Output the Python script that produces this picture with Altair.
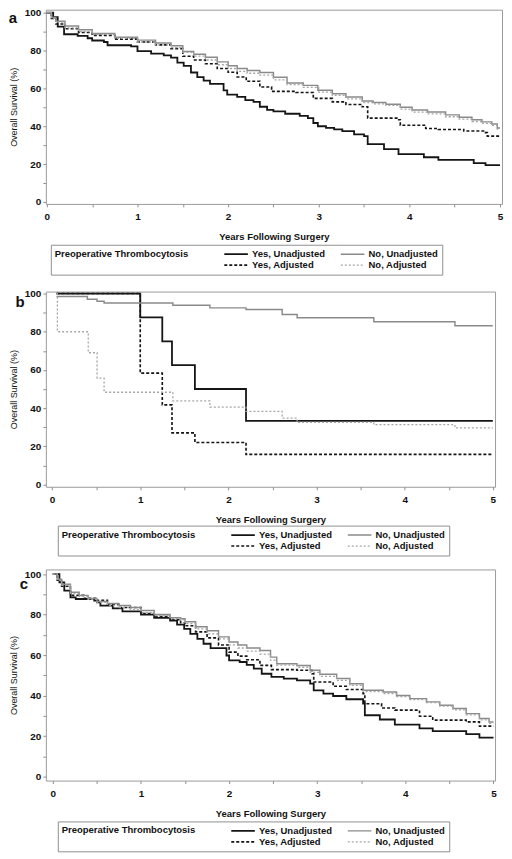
import altair as alt
import pandas as pd

GROUPS = ["Yes, Unadjusted", "Yes, Adjusted", "No, Unadjusted", "No, Adjusted"]
COLORS = ["#151515", "#151515", "#8a8a8a", "#a5a5a5"]
DASHES = [[1, 0], [3, 2], [1, 0], [2, 2]]
WIDTHS = [1.8, 1.3, 1.3, 1.2]

# ---------------- Panel a ----------------
a_yes_unadj_t = [0, 0.07, 0.12, 0.19, 0.34, 0.45, 0.5, 0.63, 0.67, 0.93, 1.0, 1.15, 1.29, 1.37, 1.44, 1.51, 1.59, 1.66, 1.73, 1.8, 1.95, 1.99, 2.1, 2.19, 2.28, 2.35, 2.43, 2.5, 2.63, 2.79, 2.88, 2.94, 2.99, 3.08, 3.17, 3.26, 3.39, 3.5, 3.54, 3.72, 3.88, 4.16, 4.32, 4.71, 4.84, 5.0]
a_yes_unadj_s = [100, 97.7, 92.6, 88.6, 87.8, 86.5, 85.3, 84.5, 82.8, 82.2, 79.7, 78.4, 77.4, 76.2, 73.6, 71.9, 68.4, 65.9, 64.1, 62.4, 59.0, 56.7, 55.5, 53.8, 52.9, 50.3, 48.6, 47.8, 46.6, 45.5, 44.3, 41.7, 40.0, 39.1, 38.3, 37.4, 35.7, 34.8, 30.5, 27.9, 25.3, 23.6, 22.2, 20.5, 19.5, 19.5]

a_yes_adj_t = [0, 0.05, 0.1, 0.2, 0.35, 0.5, 0.75, 1.0, 1.2, 1.37, 1.5, 1.62, 1.75, 1.88, 2.0, 2.1, 2.2, 2.35, 2.48, 2.75, 2.94, 3.15, 3.3, 3.48, 3.54, 3.87, 3.9, 4.18, 4.32, 4.6, 4.84, 4.86, 5.0]
a_yes_adj_s = [100, 97, 94, 91.5, 89.5, 88, 86, 84.5, 83, 81, 77, 75, 73, 70.5, 68.5, 66, 63.8, 60.7, 58.4, 57.8, 54.7, 52.9, 51.5, 50.3, 44.3, 43.4, 40.5, 38.8, 38.3, 37.5, 36.6, 34.8, 34.8]

a_no_unadj_t = [0, 0.05, 0.1, 0.2, 0.35, 0.5, 0.75, 1.0, 1.2, 1.37, 1.5, 1.62, 1.75, 1.88, 2.0, 2.1, 2.21, 2.35, 2.5, 2.65, 2.83, 2.99, 3.15, 3.3, 3.48, 3.6, 3.74, 3.9, 4.03, 4.2, 4.4, 4.55, 4.69, 4.8, 4.91, 4.97, 5.0]
a_no_unadj_s = [100, 97.5, 95.5, 93, 91, 89, 87, 85.5, 84, 82.5, 79.5, 78, 76.5, 74, 72, 70.5, 69.5, 68.4, 65.9, 62.9, 61.6, 59, 57.2, 55.5, 53.3, 52.5, 51.6, 50, 48.6, 47.5, 46, 44.8, 43.4, 42.3, 41.2, 39.1, 39.1]

a_no_adj_t = [0, 0.05, 0.1, 0.2, 0.35, 0.5, 0.75, 1.0, 1.2, 1.37, 1.5, 1.62, 1.75, 1.88, 2.0, 2.1, 2.21, 2.35, 2.5, 2.65, 2.83, 3.0, 3.15, 3.3, 3.48, 3.6, 3.74, 3.9, 4.03, 4.2, 4.4, 4.55, 4.69, 4.8, 4.91, 4.97, 5.0]
a_no_adj_s = [100, 97, 95, 92, 90, 88.5, 86.5, 84.5, 83, 81.5, 79, 77, 75, 72.5, 70.5, 69, 68, 67, 64.5, 62, 60.5, 58, 56.3, 54.5, 52.5, 51.8, 51, 49, 47.5, 46.5, 45, 43.8, 42.5, 41.5, 40.5, 38.5, 38.5]

# ---------------- Panel b ----------------
b_yes_unadj_t = [0.05, 1.0, 1.25, 1.36, 1.62, 2.2, 5.0]
b_yes_unadj_s = [100, 87.5, 75, 62.5, 50, 33.3, 33.3]

b_yes_adj_t = [0.05, 1.0, 1.25, 1.36, 1.62, 2.2, 5.0]
b_yes_adj_s = [100, 58.3, 41.7, 27, 22, 15.8, 15.8]

b_no_unadj_t = [0.05, 0.4, 0.51, 0.59, 1.37, 1.79, 2.2, 2.61, 2.78, 3.65, 4.57, 5.0]
b_no_unadj_s = [98.5, 97, 96, 95.1, 93.9, 92.5, 91.7, 89, 87.3, 85.2, 83.1, 83.1]

b_no_adj_t = [0.05, 0.06, 0.41, 0.51, 0.59, 1.37, 1.79, 2.2, 2.61, 2.78, 3.65, 4.57, 5.0]
b_no_adj_s = [100, 80, 69, 55.7, 48.3, 43.8, 40.5, 38.3, 34.8, 32.5, 31.3, 29.6, 29.6]

# ---------------- Panel c ----------------
c_yes_unadj_t = [0, 0.075, 0.13, 0.2, 0.26, 0.47, 0.5, 0.54, 0.68, 0.79, 1.0, 1.15, 1.33, 1.41, 1.49, 1.56, 1.64, 1.71, 1.79, 1.97, 2.0, 2.12, 2.2, 2.28, 2.37, 2.48, 2.62, 2.77, 2.92, 2.96, 3.07, 3.18, 3.33, 3.52, 3.54, 3.71, 3.88, 4.16, 4.31, 4.69, 4.84, 5.0]
c_yes_unadj_s = [100, 95.9, 91.8, 88.5, 87.7, 86.9, 86, 84.4, 83.1, 81.6, 80, 78.4, 77, 75.1, 73, 70.5, 68, 65.6, 63.4, 59.8, 57.4, 56.6, 55.2, 53.3, 50.8, 49.2, 48.4, 47.5, 45.9, 42.6, 41, 39.8, 38.2, 36, 30.3, 28.2, 25.7, 23.8, 22.5, 21, 19.2, 19.2]

c_yes_adj_t = [0, 0.05, 0.1, 0.2, 0.35, 0.5, 0.62, 0.75, 1.0, 1.15, 1.33, 1.45, 1.5, 1.62, 1.75, 1.88, 2.0, 2.1, 2.2, 2.35, 2.48, 2.77, 2.94, 2.96, 3.18, 3.33, 3.52, 3.54, 3.73, 3.88, 4.16, 4.31, 4.69, 4.84, 5.0]
c_yes_adj_s = [100, 97, 94, 89.5, 88, 87, 85, 83.5, 80.5, 79, 77.5, 76, 74.5, 71.5, 68.5, 65, 61.5, 59.5, 57.7, 54.9, 52.8, 52.5, 50.8, 46.7, 44.6, 43, 41, 36, 33.9, 32.8, 29.8, 27.9, 27, 24.9, 24.9]

c_no_unadj_t = [0, 0.05, 0.1, 0.2, 0.3, 0.4, 0.5, 0.62, 0.75, 0.88, 1.0, 1.15, 1.33, 1.45, 1.5, 1.62, 1.75, 1.88, 2.0, 2.1, 2.2, 2.35, 2.47, 2.54, 2.77, 2.92, 3.03, 3.22, 3.37, 3.52, 3.75, 3.9, 4.05, 4.24, 4.39, 4.54, 4.69, 4.84, 4.95, 5.0]
c_no_unadj_s = [100, 97.5, 95, 91, 89.5, 88, 86.5, 85.5, 84.5, 83.5, 82, 80, 78.5, 78, 76.5, 74, 72, 69, 66.5, 65, 63.5, 62.3, 59, 55.7, 54.9, 52.5, 50.5, 48.4, 45.9, 42.6, 41.8, 40, 38.5, 36.9, 35.2, 33.6, 31.1, 28.7, 27, 27]

c_no_adj_t = [0, 0.05, 0.1, 0.2, 0.3, 0.4, 0.5, 0.62, 0.75, 0.88, 1.0, 1.15, 1.33, 1.45, 1.5, 1.62, 1.75, 1.88, 2.0, 2.1, 2.2, 2.35, 2.47, 2.54, 2.77, 2.92, 3.03, 3.22, 3.37, 3.52, 3.75, 3.9, 4.05, 4.24, 4.39, 4.54, 4.69, 4.84, 4.95, 5.0]
c_no_adj_s = [100, 97, 94.5, 90.5, 89, 87.5, 86, 84.5, 83.5, 82.5, 81, 79.5, 78, 77.5, 75.5, 73, 70.5, 68, 65, 63.5, 62, 60.5, 57.5, 55, 54, 51.5, 49.5, 47.5, 45, 42, 41, 39.5, 38, 36.5, 34.8, 33, 30.5, 28, 26.3, 26.3]

X_TICKS = [0, 0.5, 1, 1.5, 2, 2.5, 3, 3.5, 4, 4.5, 5]
Y_TICKS = [0, 10, 20, 30, 40, 50, 60, 70, 80, 90, 100]
FONT = "Liberation Sans"


def build_df(curves):
    rows = []
    for g, (ts, ss) in zip(GROUPS, curves):
        for t, s in zip(ts, ss):
            rows.append({"group": g, "t": t, "s": s})
    return pd.DataFrame(rows)


def panel(curves, letter, width, height, xdom, ydom, letter_xy, leg_xy):
    df = build_df(curves)
    legend = alt.Legend(
        orient="none", legendX=leg_xy[0], legendY=leg_xy[1],
        title="Preoperative Thrombocytosis", titleOrient="left",
        titleAnchor="start", titleBaseline="top", titlePadding=34,
        titleFont=FONT, titleFontSize=9.5, titleFontWeight="bold", titleColor="#111",
        labelFont=FONT, labelFontSize=9.5, labelFontWeight="bold", labelColor="#111",
        columns=2, columnPadding=14, rowPadding=0, clipHeight=11,
        symbolType="stroke", symbolSize=560, labelOffset=3,
        strokeColor="#8f8f8f", padding=4, fillColor="white",
    )
    base = alt.Chart(df).mark_line(interpolate="step-after", clip=True).encode(
        x=alt.X("t:Q", scale=alt.Scale(domain=xdom, nice=False, zero=False),
                axis=alt.Axis(values=X_TICKS,
                              labelExpr="datum.value % 1 == 0 ? format(datum.value, 'd') : ''",
                              title="Years Following Surgery", grid=False, domain=False,
                              tickSize=3, tickColor="#8f8f8f", labelPadding=5,
                              labelFont=FONT, labelFontSize=10, labelFontWeight="bold", labelColor="#111",
                              titleFont=FONT, titleFontSize=9.5, titleFontWeight="bold", titleColor="#111",
                              titlePadding=10)),
        y=alt.Y("s:Q", scale=alt.Scale(domain=ydom, nice=False, zero=False),
                axis=alt.Axis(values=Y_TICKS,
                              labelExpr="datum.value % 20 == 0 ? format(datum.value, 'd') : ''",
                              title="Overall Survival (%)", grid=False, domain=False,
                              tickSize=3, tickColor="#8f8f8f", labelPadding=2,
                              labelFont=FONT, labelFontSize=10, labelFontWeight="bold", labelColor="#111",
                              titleFont=FONT, titleFontSize=9, titleFontWeight="normal", titleColor="#111",
                              titlePadding=6)),
        color=alt.Color("group:N", scale=alt.Scale(domain=GROUPS, range=COLORS), legend=legend),
        strokeDash=alt.StrokeDash("group:N", scale=alt.Scale(domain=GROUPS, range=DASHES), legend=legend),
        strokeWidth=alt.StrokeWidth("group:N", scale=alt.Scale(domain=GROUPS, range=WIDTHS), legend=legend),
        order=alt.Order("t:Q"),
    )
    lab = alt.Chart(pd.DataFrame({"letter": [letter]})).mark_text(
        font=FONT, fontSize=15, fontWeight="bold", color="#111", align="center", baseline="middle"
    ).encode(text="letter:N", x=alt.value(letter_xy[0]), y=alt.value(letter_xy[1]))
    return alt.layer(base, lab).properties(width=width, height=height)


pa = panel([(a_yes_unadj_t, a_yes_unadj_s), (a_yes_adj_t, a_yes_adj_s),
            (a_no_unadj_t, a_no_unadj_s), (a_no_adj_t, a_no_adj_s)],
           "a", 458, 195, [-0.011, 5.022], [-1.05, 101.58], (-33, 8), (5, 236))
pb = panel([(b_yes_unadj_t, b_yes_unadj_s), (b_yes_adj_t, b_yes_adj_s),
            (b_no_unadj_t, b_no_unadj_s), (b_no_adj_t, b_no_adj_s)],
           "b", 451, 196, [-0.071, 5.025], [-1.2, 101.04], (-26, 11), (12, 235))
pc = panel([(c_yes_unadj_t, c_yes_unadj_s), (c_yes_adj_t, c_yes_adj_s),
            (c_no_unadj_t, c_no_unadj_s), (c_no_adj_t, c_no_adj_s)],
           "c", 451, 212, [-0.079, 5.017], [-1.97, 102.3], (-22, 15), (12, 253))

chart = alt.vconcat(pa, pb, pc, spacing=12).resolve_scale(
    color="independent", strokeDash="independent", strokeWidth="independent"
).configure_view(stroke="#9a9a9a", strokeWidth=1).properties(
    padding={"left": 0, "top": -3, "right": 0, "bottom": 0}, background="white"
)

chart.save("out.html", embed_options={"renderer": "svg", "actions": False})
